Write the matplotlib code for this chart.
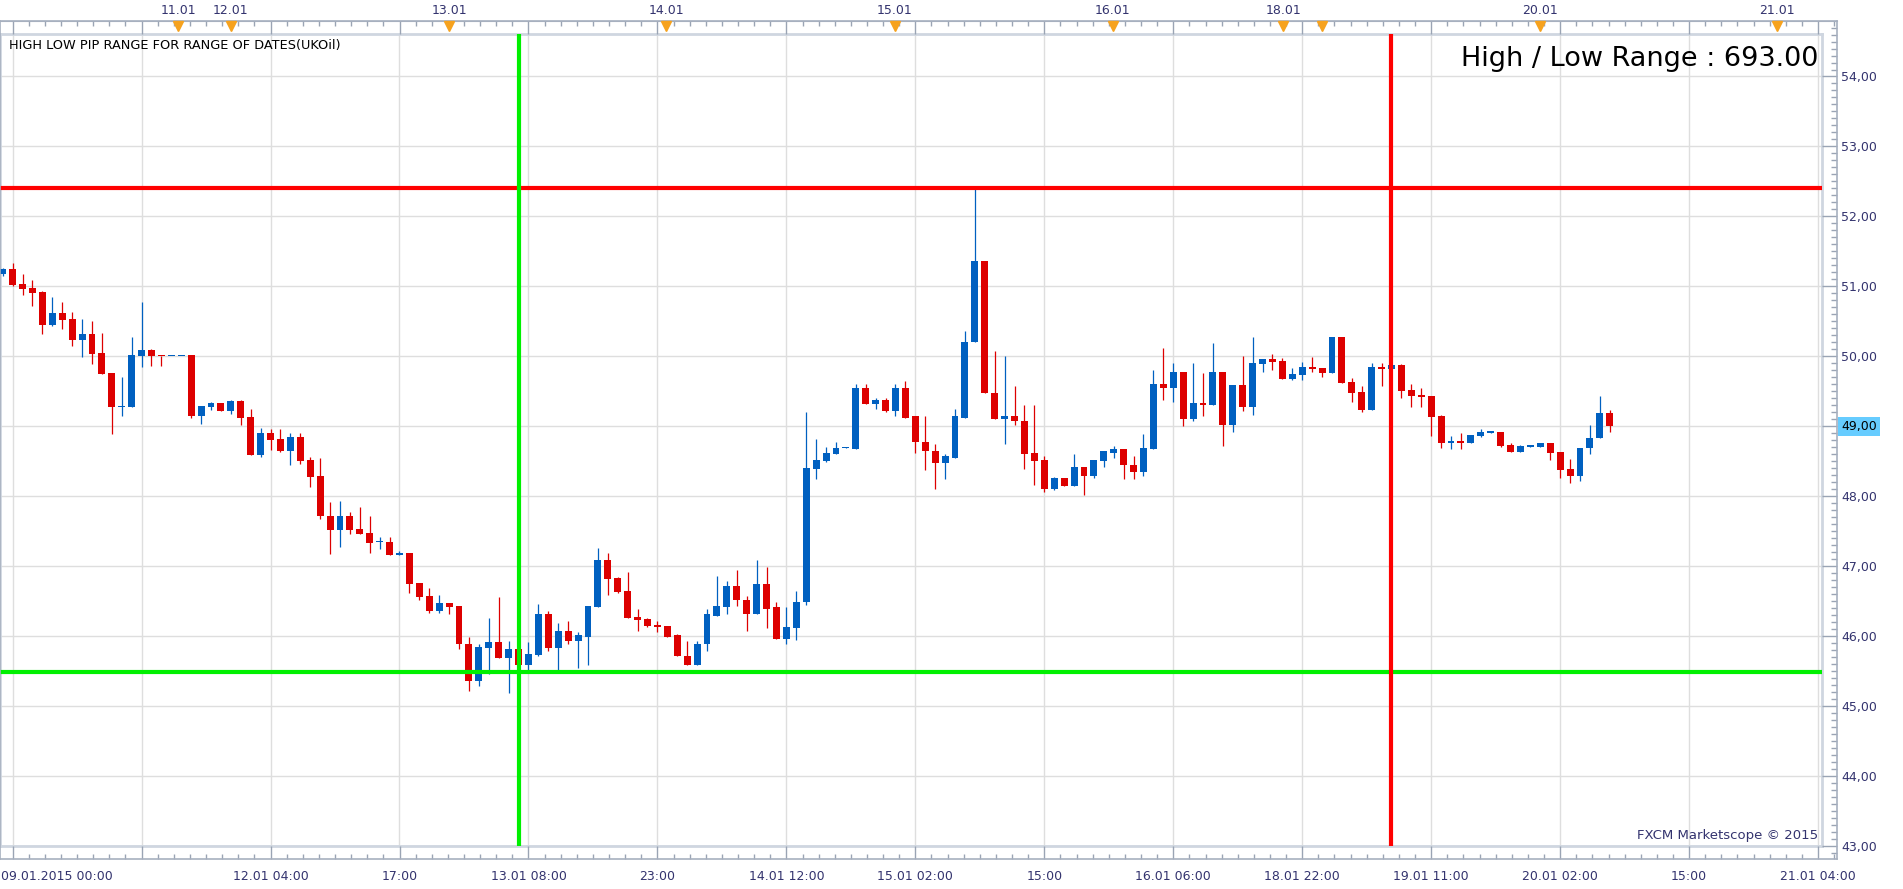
import numpy as np
import matplotlib
matplotlib.use("Agg")
import matplotlib.pyplot as plt
from matplotlib.ticker import FixedLocator, MultipleLocator, FuncFormatter
from matplotlib.transforms import ScaledTranslation, blended_transform_factory

# UKOil hourly candles (open, high, low, close)
open_ = [51.18, 51.25, 51.03, 50.98, 50.92, 50.45, 50.62, 50.53, 50.23, 50.32,
         50.05, 49.76, 49.28, 49.28, 50.01, 50.09, 50.01, 50.00, 50.00, 50.02,
         49.15, 49.28, 49.33, 49.22, 49.36, 49.13, 48.59, 48.91, 48.82, 48.65,
         48.85, 48.52, 48.29, 47.72, 47.52, 47.71, 47.53, 47.48, 47.34, 47.35,
         47.16, 47.19, 46.76, 46.58, 46.36, 46.48, 46.43, 45.89, 45.36, 45.83,
         45.92, 45.69, 45.81, 45.59, 45.73, 46.31, 45.83, 46.08, 45.93, 45.99,
         46.42, 47.09, 46.83, 46.65, 46.28, 46.25, 46.16, 46.15, 46.01, 45.72,
         45.59, 45.88, 46.29, 46.42, 46.71, 46.52, 46.32, 46.75, 46.41, 45.96,
         46.12, 46.49, 48.39, 48.51, 48.61, 48.69, 48.68, 49.54, 49.32, 49.38,
         49.22, 49.55, 49.14, 48.78, 48.65, 48.47, 48.55, 49.12, 50.20, 51.36,
         49.48, 49.11, 49.15, 49.08, 48.62, 48.52, 48.11, 48.26, 48.15, 48.42,
         48.29, 48.51, 48.62, 48.67, 48.45, 48.35, 48.68, 49.61, 49.54, 49.78,
         49.11, 49.33, 49.31, 49.78, 49.02, 49.59, 49.28, 49.89, 49.96, 49.93,
         49.68, 49.73, 49.85, 49.83, 49.76, 50.28, 49.63, 49.49, 49.23, 49.85,
         49.82, 49.88, 49.52, 49.45, 49.43, 49.15, 48.76, 48.79, 48.76, 48.86,
         48.91, 48.92, 48.73, 48.63, 48.71, 48.71, 48.76, 48.63, 48.39, 48.29,
         48.69, 48.83, 49.19]
high = [51.26, 51.33, 51.18, 51.09, 50.93, 50.85, 50.78, 50.63, 50.53, 50.50,
        50.33, 49.76, 49.70, 50.28, 50.78, 50.10, 50.01, 50.00, 50.00, 50.02,
        49.29, 49.35, 49.33, 49.38, 49.38, 49.25, 48.98, 48.96, 48.96, 48.91,
        48.91, 48.56, 48.55, 47.91, 47.93, 47.78, 47.85, 47.72, 47.41, 47.42,
        47.21, 47.19, 46.76, 46.69, 46.59, 46.48, 46.43, 45.99, 45.88, 46.26,
        46.56, 45.93, 46.09, 45.91, 46.46, 46.36, 46.19, 46.22, 46.06, 46.43,
        47.26, 47.19, 46.85, 46.91, 46.39, 46.26, 46.22, 46.15, 46.03, 45.93,
        45.93, 46.39, 46.86, 46.79, 46.95, 46.58, 47.09, 46.99, 46.49, 46.42,
        46.65, 49.20, 48.82, 48.71, 48.77, 48.70, 49.60, 49.60, 49.41, 49.41,
        49.61, 49.64, 49.15, 49.14, 48.74, 48.61, 49.25, 50.36, 52.41, 51.36,
        50.07, 50.01, 49.57, 49.31, 49.31, 48.57, 48.28, 48.26, 48.61, 48.42,
        48.52, 48.64, 48.72, 48.67, 48.58, 48.89, 49.80, 50.12, 49.90, 49.78,
        49.90, 49.76, 50.19, 49.78, 49.59, 50.00, 50.28, 49.96, 50.03, 49.98,
        49.83, 49.92, 49.99, 49.83, 50.28, 50.28, 49.69, 49.58, 49.91, 49.91,
        49.95, 49.89, 49.61, 49.55, 49.43, 49.16, 48.86, 48.91, 48.88, 48.96,
        48.92, 48.92, 48.76, 48.73, 48.72, 48.76, 48.76, 48.63, 48.53, 48.69,
        49.02, 49.43, 49.23]
low = [51.15, 51.01, 50.88, 50.72, 50.32, 50.43, 50.39, 50.15, 49.99, 49.89,
       49.75, 48.89, 49.15, 49.28, 49.85, 49.86, 49.86, 50.00, 50.00, 49.12,
       49.03, 49.23, 49.22, 49.18, 49.02, 48.59, 48.56, 48.66, 48.63, 48.45,
       48.46, 48.13, 47.68, 47.18, 47.28, 47.46, 47.46, 47.19, 47.25, 47.16,
       47.16, 46.61, 46.51, 46.33, 46.33, 46.32, 45.82, 45.22, 45.29, 45.46,
       45.69, 45.18, 45.48, 45.49, 45.71, 45.78, 45.49, 45.88, 45.55, 45.58,
       46.42, 46.59, 46.62, 46.26, 46.08, 46.13, 46.06, 45.99, 45.71, 45.58,
       45.59, 45.78, 46.29, 46.32, 46.43, 46.08, 46.32, 46.11, 45.96, 45.89,
       45.95, 46.45, 48.25, 48.49, 48.61, 48.69, 48.68, 49.32, 49.25, 49.21,
       49.15, 49.12, 48.62, 48.38, 48.11, 48.24, 48.54, 49.12, 50.20, 49.47,
       49.10, 48.75, 49.02, 48.39, 48.16, 48.06, 48.09, 48.15, 48.15, 48.02,
       48.26, 48.42, 48.55, 48.25, 48.25, 48.29, 48.68, 49.38, 49.34, 49.00,
       49.08, 49.15, 49.31, 48.72, 48.92, 49.22, 49.16, 49.78, 49.81, 49.68,
       49.66, 49.66, 49.78, 49.71, 49.76, 49.62, 49.35, 49.21, 49.23, 49.58,
       49.71, 49.41, 49.28, 49.28, 48.86, 48.69, 48.68, 48.68, 48.76, 48.85,
       48.91, 48.71, 48.63, 48.63, 48.70, 48.71, 48.52, 48.26, 48.19, 48.22,
       48.61, 48.83, 48.92]
close = [51.25, 51.02, 50.96, 50.91, 50.45, 50.62, 50.52, 50.23, 50.32, 50.03,
         49.75, 49.28, 49.29, 50.02, 50.09, 50.01, 50.00, 50.00, 50.00, 49.15,
         49.29, 49.33, 49.22, 49.36, 49.12, 48.59, 48.91, 48.81, 48.65, 48.85,
         48.51, 48.28, 47.72, 47.52, 47.71, 47.52, 47.46, 47.33, 47.35, 47.16,
         47.19, 46.75, 46.56, 46.36, 46.48, 46.42, 45.88, 45.36, 45.85, 45.92,
         45.69, 45.81, 45.59, 45.75, 46.31, 45.83, 46.08, 45.93, 46.01, 46.43,
         47.09, 46.82, 46.63, 46.26, 46.23, 46.15, 46.13, 45.99, 45.71, 45.59,
         45.89, 46.31, 46.43, 46.71, 46.51, 46.32, 46.75, 46.39, 45.96, 46.13,
         46.49, 48.41, 48.52, 48.62, 48.69, 48.70, 49.54, 49.32, 49.38, 49.22,
         49.55, 49.12, 48.77, 48.64, 48.47, 48.57, 49.14, 50.21, 51.36, 49.47,
         49.11, 49.15, 49.07, 48.61, 48.51, 48.11, 48.26, 48.15, 48.42, 48.29,
         48.52, 48.64, 48.67, 48.44, 48.35, 48.69, 49.61, 49.54, 49.78, 49.11,
         49.33, 49.31, 49.78, 49.02, 49.59, 49.28, 49.91, 49.96, 49.92, 49.68,
         49.75, 49.85, 49.82, 49.76, 50.28, 49.62, 49.48, 49.23, 49.85, 49.82,
         49.88, 49.51, 49.43, 49.42, 49.13, 48.76, 48.79, 48.76, 48.88, 48.92,
         48.92, 48.72, 48.63, 48.72, 48.72, 48.76, 48.62, 48.38, 48.29, 48.69,
         48.83, 49.19, 49.00]

# bottom time axis: one label every 13 bars
time_labels = ["09.01.2015 00:00", "", "12.01 04:00", "17:00", "13.01 08:00", "23:00",
               "14.01 12:00", "15.01 02:00", "15:00", "16.01 06:00", "18.01 22:00",
               "19.01 11:00", "20.01 02:00", "15:00", "21.01 04:00"]
# calendar events shown on the top axis (bar position, date)
event_pos = [17.7, 23.0, 45.0, 66.9, 89.9, 111.9, 129.1, 133.0, 155.0, 178.9]
event_labels = ["11.01", "12.01", "13.01", "14.01", "15.01", "16.01", "18.01", "", "20.01", "21.01"]

# date range used for the high / low measurement (bar indices)
range_start, range_end = 52, 140

RED, BLUE = "#dd0000", "#0060c0"
NAVY = "#33336e"
W, H = 1903, 889

o = np.array(open_); h = np.array(high); l = np.array(low); c = np.array(close)
x = np.arange(len(o))
up = c >= o
cols = np.where(up, BLUE, RED)

# pixel layout helpers
def idx(px):
    return (px - 2.7) / 9.92

def price(py):
    return 54 - (py - 76.5) / 69.95

def rect(left, top, right, bottom):
    return [left / W, 1 - bottom / H, (right - left) / W, (bottom - top) / H]

fig = plt.figure(figsize=(W / 100, H / 100), dpi=100)
fig.patch.set_facecolor("white")

# inner price panel
ax = fig.add_axes(rect(0, 34, 1822, 846), zorder=1)
ax.set_xlim(idx(0), idx(1822))
ax.set_ylim(price(846), price(34))
major_x = [1 + 13 * k for k in range(len(time_labels))]
ax.set_xticks(major_x)
ax.set_yticks(np.arange(43, 55))
ax.grid(True, color="#dedede", lw=1)
ax.tick_params(length=0, labelbottom=False, labelleft=False)
for s in ax.spines.values():
    s.set_color("#cfd6e0")
    s.set_linewidth(2)
ax.set_axisbelow(True)

body_bottom = np.minimum(o, c)
body_h = np.maximum(np.abs(c - o), 0.015)
ax.vlines(x, l, h, colors=cols, lw=0.9, zorder=2)
ax.bar(x, body_h, bottom=body_bottom, width=0.7, color=cols, linewidth=0, zorder=3)

# high / low of the chosen range
rng_hi = h[range_start:range_end + 1].max()
rng_lo = l[range_start:range_end + 1].min()
ax.axhline(rng_hi, color="#ff0000", lw=3, zorder=5)
ax.axhline(rng_lo, color="#00f000", lw=3, zorder=5)
ax.axvline(range_start, color="#00f000", lw=3, zorder=5)
ax.axvline(range_end, color="#ff0000", lw=3, zorder=5)

ax.text(9 / 1822, 1 - 11 / 812, "HIGH LOW PIP RANGE FOR RANGE OF DATES(UKOil)",
        transform=ax.transAxes, fontsize=9.3, va="center", ha="left", color="black")
ax.text(1 - 4 / 1822, 1 - 25 / 812, f"High / Low Range : {(rng_hi - rng_lo) * 100:.2f}",
        transform=ax.transAxes, fontsize=19.5, va="center", ha="right", color="black")
ax.text(1 - 4 / 1822, 10 / 812, "FXCM Marketscope \u00a9 2015",
        transform=ax.transAxes, fontsize=9.5, va="center", ha="right", color=NAVY)

# outer frame with the axes
ax_o = fig.add_axes(rect(0, 21, 1837, 859), zorder=2)
ax_o.patch.set_alpha(0)
ax_o.set_xlim(idx(0), idx(1837))
ax_o.set_ylim(price(859), price(21))
for s in ax_o.spines.values():
    s.set_color("#a7b0bf")
    s.set_linewidth(1.2)

ax_o.yaxis.tick_right()
ax_o.yaxis.set_major_locator(FixedLocator(np.arange(43, 55)))
ax_o.yaxis.set_minor_locator(MultipleLocator(0.1))
ax_o.yaxis.set_major_formatter(FuncFormatter(lambda v, p: f"{v:.2f}".replace(".", ",")))
ax_o.tick_params(axis="y", which="major", direction="in", length=10.8, width=1,
                 color="#9aa4b4", labelsize=9, labelcolor=NAVY, pad=3)
ax_o.tick_params(axis="y", which="minor", direction="in", length=4.5, width=1, color="#9aa4b4")

ax_o.xaxis.set_major_locator(FixedLocator(major_x))
ax_o.xaxis.set_minor_locator(FixedLocator([1 + 13 * k / 8 for k in range(8 * len(time_labels))]))
ax_o.set_xticklabels(time_labels)
ax_o.tick_params(axis="x", which="major", direction="in", length=9.4, width=1,
                 color="#9aa4b4", labelsize=9, labelcolor=NAVY, pad=8, top=True)
ax_o.tick_params(axis="x", which="minor", direction="in", length=3.6, width=1,
                 color="#9aa4b4", top=True)
first = ax_o.get_xticklabels()[0]
first.set_ha("left")
first.set_transform(first.get_transform() + ScaledTranslation(-0.115, 0, fig.dpi_scale_trans))

# top event axis
sec = ax_o.secondary_xaxis("top")
sec.set_xticks(event_pos, event_labels)
sec.tick_params(length=0, labelsize=9, labelcolor=NAVY, pad=3)
sec.spines["top"].set_color("#a7b0bf")
tri_tr = ax_o.get_xaxis_transform() + ScaledTranslation(0, -0.045, fig.dpi_scale_trans)
ax_o.plot(event_pos, [1] * len(event_pos), transform=tri_tr, marker="v", ls="none",
          ms=7.5, color="#f6a21e", clip_on=False, zorder=6)

# last price marker
ax_o.text(1 + 4 / 1837, c[-1], f"{c[-1]:.2f}".replace(".", ","),
          transform=blended_transform_factory(ax_o.transAxes, ax_o.transData),
          fontsize=9, color="black", ha="left", va="center", zorder=10,
          bbox=dict(boxstyle="square,pad=0.25", fc="#66ccff", ec="none"))

fig.savefig("out.png", dpi=100, facecolor="white")
